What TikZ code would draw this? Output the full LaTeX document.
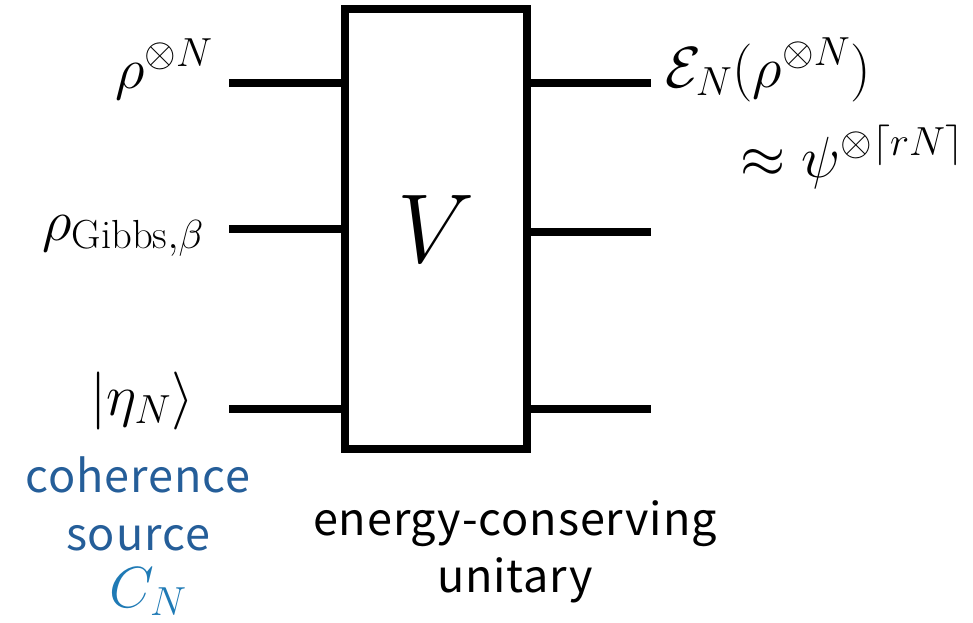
\RequirePackage{fix-cm}
\documentclass[tikz,border=0pt]{standalone}
\usepackage{amsmath}
\usepackage{fontspec}
\newfontfamily\capfont[LetterSpace=2]{Noto Sans CJK JP}
\usetikzlibrary{positioning}
\definecolor{cohblue}{RGB}{37,94,153}
\definecolor{srcblue}{RGB}{31,122,181}
\tikzset{
	wire/.style={line width=7.5pt},
	gatebox/.style={draw, line width=8pt, minimum width=182pt, minimum height=440pt, inner sep=0pt},
	mathlbl/.style={font=\fontsize{58}{64}\selectfont, inner sep=0pt},
	caption/.style={font=\capfont\fontsize{45}{57}\selectfont, inner sep=0pt, anchor=base},
}

\begin{document}
\begin{tikzpicture}[x=1pt, y=-1pt]
			\useasboundingbox (0,0) rectangle (973,622);
			% Paths, nodes and wires:
			\node[gatebox] (gate) at (436,229){};
			\node[font=\fontsize{98}{100}\selectfont, inner sep=0pt, anchor=base] (V) at (436,262){$V$};
			\coordinate (in1) at (229,83);
			\coordinate (in2) at (229,229);
			\coordinate (in3) at (229,409);
			\coordinate (out1) at (651,83);
			\coordinate (out2) at (651,232);
			\coordinate (out3) at (651,409);
			\draw[wire] (in1) -- (in1 -| gate.west);
			\draw[wire] (in2) -- (in2 -| gate.west);
			\draw[wire] (in3) -- (in3 -| gate.west);
			\draw[wire] (gate.east |- out1) -- (out1);
			\draw[wire] (gate.east |- out2) -- (out2);
			\draw[wire] (gate.east |- out3) -- (out3);
			\node[mathlbl, anchor=base east] (rhoN) at (213,88){$\rho^{\otimes N}$};
			\node[mathlbl, anchor=base east] (rhoG) at (204,240){$\rho_{\mathrm{Gibbs},\beta}$};
			\node[mathlbl, anchor=base east] (eta) at (194,415){$|\eta_N\rangle$};
			\node[mathlbl, anchor=base west] (chan) at (665,87){$\mathcal{E}_N(\rho^{\otimes N})$};
			\node[mathlbl, anchor=base east] (approx) at (964,177){$\approx\psi^{\otimes\lceil rN\rceil}$};
			\node[caption, text=cohblue] (coh) at (138,492){coherence};
			\node[caption, text=cohblue] (src) at (138,550){source};
			\node[mathlbl, text=srcblue, anchor=base] (CN) at (148,607){$C_N$};
			\node[caption] (energy) at (515,535){energy-conserving};
			\node[caption] (unit) at (515,592){unitary};
		\end{tikzpicture}
\end{document}
